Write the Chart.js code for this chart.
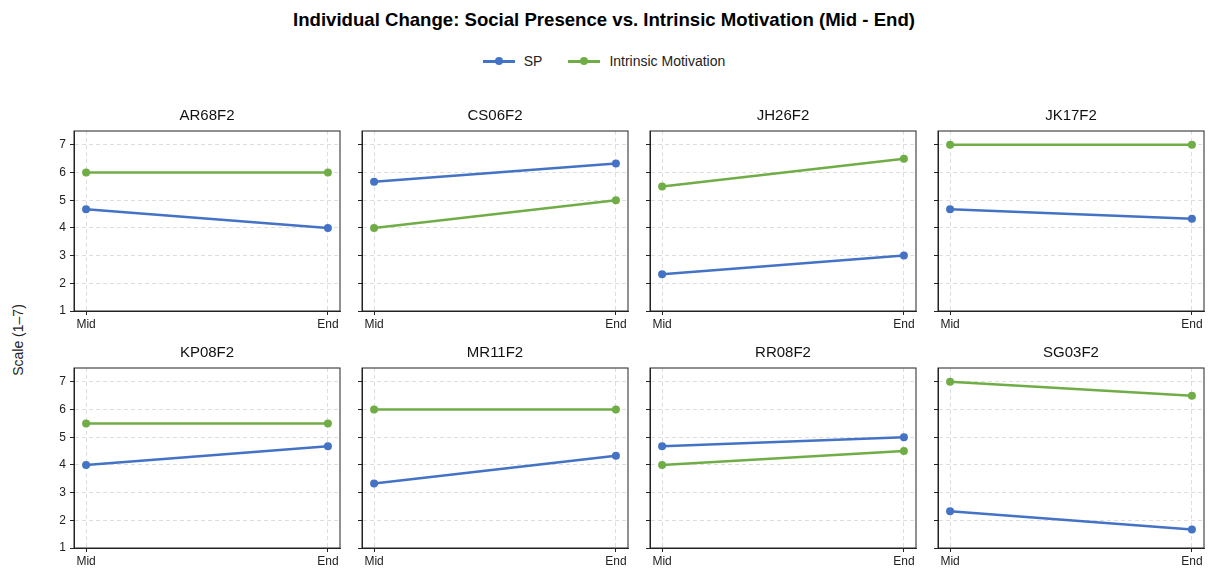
<!DOCTYPE html>
<html>
<head>
<meta charset="utf-8">
<script src="https://cdn.jsdelivr.net/npm/chart.js@4"></script>
<style>
  body { margin: 0; background: #fff; font-family: "Liberation Sans", Arial, sans-serif; }
  #wrap { position: relative; width: 1208px; height: 569px; overflow: hidden; }
  #title { position: absolute; top: 9px; left: 0; width: 1208px; text-align: center; font-weight: bold; font-size: 18.6px; color: #000; }
  #legend { position: absolute; top: 52px; left: 0; width: 1208px; display: flex; justify-content: center; font-size: 14px; color: #222; }
  .item { display: flex; align-items: center; margin: 0 13px; }
  .swatch { position: relative; width: 32px; height: 18px; margin-right: 9px; }
  .swatch .ln { position: absolute; left: 0; top: 8px; width: 32px; height: 2.5px; }
  .swatch .dot { position: absolute; left: 12px; top: 5px; width: 8px; height: 8px; border-radius: 50%; }
  #ylab { position: absolute; left: 18px; top: 340px; transform: translate(-50%, -50%) rotate(-90deg); font-size: 14px; color: #222; white-space: nowrap; }
  canvas { position: absolute; }
</style>
</head>
<body>
<div id="wrap">
  <div id="title">Individual Change: Social Presence vs. Intrinsic Motivation (Mid - End)</div>
  <div id="legend"></div>
  <div id="ylab">Scale (1–7)</div>
</div>
<script>
// data
const participants = ["AR68F2", "CS06F2", "JH26F2", "JK17F2", "KP08F2", "MR11F2", "RR08F2", "SG03F2"];
const phases = ["Mid", "End"];
const spMid = [4.67, 5.67, 2.33, 4.67, 4.00, 3.33, 4.67, 2.33];
const spEnd = [4.00, 6.33, 3.00, 4.33, 4.67, 4.33, 5.00, 1.67];
const imMid = [6.0, 4.0, 5.5, 7.0, 5.5, 6.0, 4.0, 7.0];
const imEnd = [6.0, 5.0, 6.5, 7.0, 5.5, 6.0, 4.5, 6.5];
const yTicks = [1, 2, 3, 4, 5, 6, 7];

const seriesNames = ["SP", "Intrinsic Motivation"];
const seriesColors = ["#4472C4", "#70AD47"];

// legend
const legend = document.getElementById("legend");
seriesNames.forEach((name, i) => {
  const it = document.createElement("div");
  it.className = "item";
  it.innerHTML = '<div class="swatch"><div class="ln" style="background:' + seriesColors[i] + '"></div><div class="dot" style="background:' + seriesColors[i] + '"></div></div><span>' + name + '</span>';
  legend.appendChild(it);
});

// layout of the panels (plot box positions)
const boxLefts = [74, 362, 650, 938];
const boxTops = [131, 368];
const boxW = 266, boxH = 180;
const titleH = 30, xAxisH = 20;
const tickFont = { family: "'Liberation Sans', Arial, sans-serif", size: 12 };

// full frame around plot area
const framePlugin = {
  id: "frame",
  afterDraw(chart) {
    const { ctx, chartArea: a } = chart;
    ctx.save();
    ctx.strokeStyle = "#222";
    ctx.lineWidth = 1;
    ctx.strokeRect(a.left, a.top, a.right - a.left, a.bottom - a.top);
    ctx.restore();
  }
};

const wrap = document.getElementById("wrap");
participants.forEach((p, i) => {
  const col = i % 4, row = Math.floor(i / 4);
  const yAxisW = col === 0 ? 30 : 8;
  const canvas = document.createElement("canvas");
  canvas.style.left = (boxLefts[col] - yAxisW) + "px";
  canvas.style.top = (boxTops[row] - titleH) + "px";
  canvas.style.width = (boxW + yAxisW + 4) + "px";
  canvas.style.height = (boxH + titleH + xAxisH) + "px";
  canvas.width = boxW + yAxisW + 4;
  canvas.height = boxH + titleH + xAxisH;
  wrap.appendChild(canvas);

  const mk = (vals, k) => ({
    label: seriesNames[k],
    data: vals.map((v, j) => ({ x: j, y: v })),
    borderColor: seriesColors[k],
    backgroundColor: seriesColors[k],
    borderWidth: 2.5,
    pointRadius: 4,
    pointBorderWidth: 0
  });

  new Chart(canvas, {
    type: "line",
    data: {
      datasets: [
        mk([spMid[i], spEnd[i]], 0),
        mk([imMid[i], imEnd[i]], 1)
      ]
    },
    options: {
      responsive: false,
      animation: false,
      events: [],
      layout: { padding: { left: 0, right: 4, top: 0, bottom: 0 } },
      plugins: {
        legend: { display: false },
        tooltip: { enabled: false },
        title: {
          display: true,
          text: p,
          fullSize: false,
          color: "#111",
          font: { family: "'Liberation Sans', Arial, sans-serif", size: 15, weight: "normal" },
          padding: { top: 6, bottom: 6 }
        }
      },
      scales: {
        x: {
          type: "linear",
          min: -0.05,
          max: 1.05,
          afterBuildTicks: s => { s.ticks = phases.map((_, j) => ({ value: j })); },
          afterFit: s => { s.height = xAxisH; },
          ticks: {
            callback: v => phases[v],
            color: "#222",
            padding: 2,
            maxRotation: 0,
            font: tickFont
          },
          grid: { color: "#d6d6d6", lineWidth: 0.8, tickColor: "#222", tickLength: 4, tickWidth: 1 },
          border: { display: true, color: "#222", width: 1, dash: [4, 3] }
        },
        y: {
          type: "linear",
          min: 1,
          max: 7.5,
          afterBuildTicks: s => { s.ticks = yTicks.map(v => ({ value: v })); },
          afterFit: s => { s.width = yAxisW; },
          ticks: {
            display: col === 0,
            color: "#222",
            padding: 4,
            font: tickFont
          },
          grid: { color: "#d6d6d6", lineWidth: 0.8, tickColor: "#222", tickLength: 4, tickWidth: 1 },
          border: { display: true, color: "#222", width: 1, dash: [4, 3] }
        }
      }
    },
    plugins: [framePlugin]
  });
});
</script>
</body>
</html>
